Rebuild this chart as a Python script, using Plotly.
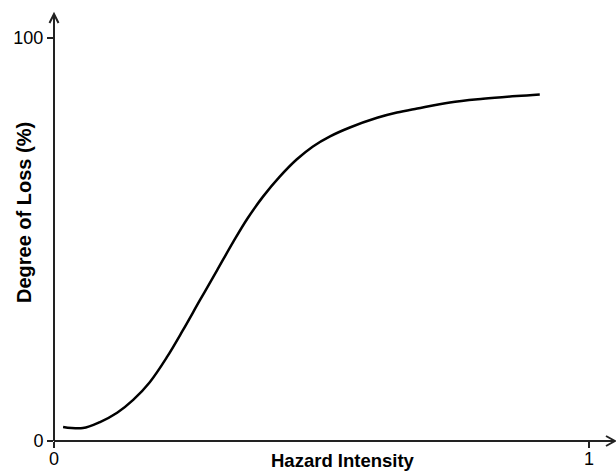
import plotly.graph_objects as go

# Data
intensity = [0.017, 0.054, 0.086, 0.118, 0.148, 0.179, 0.211, 0.241, 0.273, 0.305,
             0.335, 0.361, 0.391, 0.422, 0.454, 0.484, 0.516, 0.553, 0.604, 0.641,
             0.679, 0.740, 0.802, 0.865, 0.908]
loss = [3.5, 3.2, 4.7, 7.0, 10.2, 14.6, 20.8, 27.5, 35.0, 42.4,
        49.4, 55.1, 60.7, 65.6, 69.9, 73.1, 75.6, 77.8, 80.2, 81.5,
        82.5, 84.0, 84.9, 85.6, 86.0]
x_ticks = [0, 1]
x_tick_labels = ["0", "1"]
y_ticks = [0, 100]
y_tick_labels = ["0", "100"]
x_title = "Hazard Intensity"
y_title = "Degree of Loss (%)"

FONT = "Liberation Sans, Arial, sans-serif"
W, H = 616, 472
ML, MR, MT, MB = 54, 0, 10, 31
PW, PH = W - ML - MR, H - MT - MB


def px(xp):   # pixel x -> paper
    return (xp - ML) / PW


def py(yp):   # pixel y -> paper
    return (H - MB - yp) / PH


AX = "#222"
fig = go.Figure()
fig.add_trace(go.Scatter(
    x=intensity, y=loss, mode="lines",
    line=dict(color="black", width=2.5, shape="spline", smoothing=1.0),
    hoverinfo="skip", showlegend=False,
))

axis_common = dict(showgrid=False, zeroline=False, showline=False, automargin=False,
                   ticks="outside", ticklen=6, tickwidth=1.5, tickcolor=AX,
                   tickfont=dict(family=FONT, size=18, color="black"))

line = dict(color=AX, width=2)
fig.update_layout(
    width=W, height=H,
    margin=dict(l=ML, r=MR, t=MT, b=MB),
    paper_bgcolor="white", plot_bgcolor="white",
    xaxis=dict(range=[0, PW / 535], tickvals=x_ticks, ticktext=x_tick_labels,
               ticklabelstandoff=-5, **axis_common),
    yaxis=dict(range=[0, PH / 4.03], tickvals=y_ticks, ticktext=y_tick_labels, **axis_common),
    shapes=[
        # x axis with arrow
        dict(type="line", xref="paper", yref="paper", x0=px(54), y0=py(441), x1=px(615), y1=py(441), line=line),
        dict(type="path", xref="paper", yref="paper",
             path=f"M {px(606)},{py(436)} L {px(615)},{py(441)} L {px(606)},{py(446)}", line=line),
        # y axis with arrow
        dict(type="line", xref="paper", yref="paper", x0=px(54), y0=py(441), x1=px(54), y1=py(14), line=line),
        dict(type="path", xref="paper", yref="paper",
             path=f"M {px(49.5)},{py(23)} L {px(54)},{py(14)} L {px(58.5)},{py(23)}", line=line),
    ],
    annotations=[
        dict(text="<b>" + x_title + "</b>", xref="paper", yref="paper",
             x=px(343), y=py(460.5), showarrow=False,
             xanchor="center", yanchor="middle",
             font=dict(family=FONT, size=18.5, color="black")),
        dict(text="<b>" + y_title + "</b>", xref="paper", yref="paper",
             x=px(24), y=py(213), showarrow=False, textangle=-90,
             xanchor="center", yanchor="middle",
             font=dict(family=FONT, size=20, color="black")),
    ],
)

fig.write_html("out.html", config={"displayModeBar": False, "staticPlot": True},
               post_script="document.body.style.margin='0';document.body.style.padding='0';")
